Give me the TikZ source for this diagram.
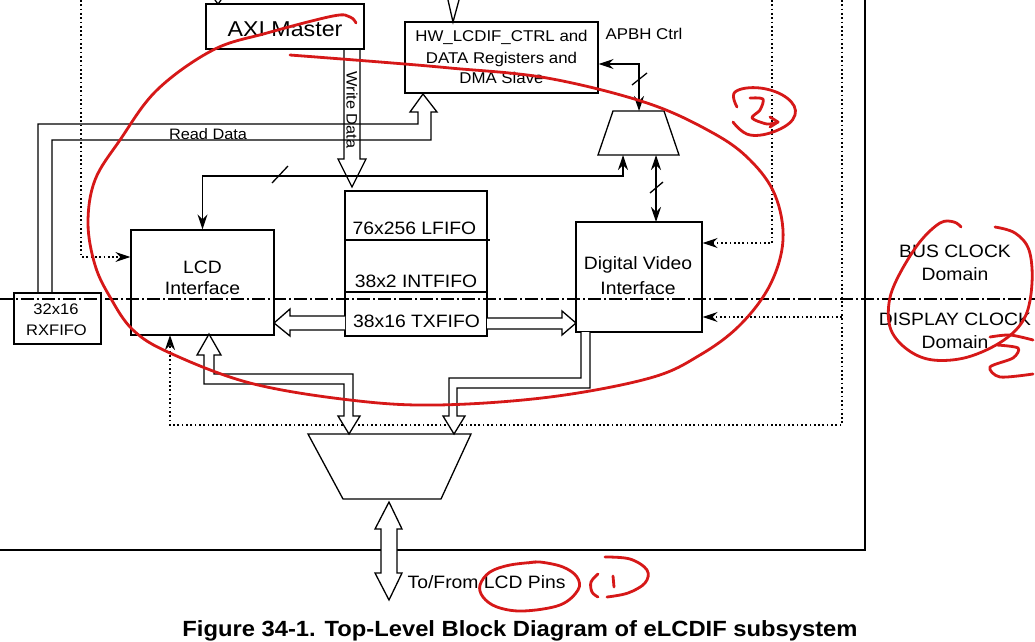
\documentclass[tikz,border=0pt]{standalone}
\usepackage{fontspec}
\setmainfont{Liberation Sans}[FakeStretch=1.08]
\usetikzlibrary{arrows.meta}
\newcommand\sizehw{\fontsize{15.6pt}{19pt}\selectfont}
\newcommand\sizebig{\fontsize{17.9pt}{21pt}\selectfont}
\newcommand\sizerx{\fontsize{15.3pt}{19pt}\selectfont}
\newcommand\sizerd{\fontsize{15.1pt}{19pt}\selectfont}
\newcommand\sizeaxi{\fontsize{21.5pt}{25pt}\selectfont}
\newcommand\sizecap{\fontsize{22pt}{26pt}\selectfont\bfseries}
\begin{document}
\begin{tikzpicture}[x=1pt,y=-1pt,line width=1.3pt,
  box/.style={draw,inner sep=0pt,line width=1.3pt},
  lbl/.style={anchor=base,inner sep=0pt},
  tipend/.style={-{Stealth[length=15pt,width=10pt,inset=5pt]}},
  tipboth/.style={{Stealth[length=15pt,width=10pt,inset=5pt]}-{Stealth[length=15pt,width=10pt,inset=5pt]}},
  dotl/.style={dash pattern=on 1.7pt off 2.6pt,line width=1.3pt},
  dashdot/.style={dash pattern=on 13pt off 3pt on 2pt off 3pt,line width=1.1pt},
  hol/.style={draw,fill=white,line width=1.3pt,line join=miter},
  scrib/.style={draw={rgb,255:red,214;green,24;blue,24},line width=2.8pt,line cap=round,line join=round}]
\useasboundingbox (0,0) rectangle (1035,641);
\fill[white] (0,0) rectangle (1035,641);

% outer frame
\draw[line width=1.8pt] (865,0) coordinate (fTop) -- (865,550) coordinate (fCorner) -- (0,550) coordinate (fLeft);

% boxes
\node[box,minimum width=158,minimum height=45] (axi) at (285,26.5) {};
\node[box,minimum width=193,minimum height=71] (hw) at (501.5,57.5) {};
\node[box,minimum width=143,minimum height=105] (lcd) at (202.5,282.5) {};
\node[box,minimum width=87,minimum height=51] (rx) at (57.5,318.5) {};
\node[box,minimum width=142,minimum height=145] (fifo) at (416,263.5) {};
\node[box,minimum width=126,minimum height=110] (dvi) at (639,277) {};
\draw (345,240) -- (490,240);
\draw (345,292) -- (487,292);

% muxes
\coordinate (mA) at (613,111); \coordinate (mB) at (664,111);
\coordinate (mC) at (679,155); \coordinate (mD) at (598,155);
\draw (mA) -- (mB) -- (mC) -- (mD) -- cycle;
\coordinate (MA) at (308,434); \coordinate (MB) at (471,434);
\coordinate (MC) at (441,499); \coordinate (MD) at (343,499);
\draw (MA) -- (MB) -- (MC) -- (MD) -- cycle;

% dotted clock lines
\draw[dotl,tipend] (81,0) -- (81,257) -- (lcd.west |- 0,257);
\draw[dotl,tipend] (772,0) -- (772,243) -- (dvi.east |- 0,243);
\draw[dotl,tipend] (842,0) -- (842,425) -- (170,425) -- (170,335);
\draw[dotl,tipend] (842,317) -- (dvi.east |- 0,317);

% domain separator
\draw[dashdot] (0,299) coordinate (ddL) -- (1035,299) coordinate (ddR);

% incoming arrow stubs at the top
\draw (215,0) -- (218,4) -- (221,0);
\draw (448,0) -- (453,22) -- (459,0);

% single-line arrows
\draw[tipboth] (hw.east |- 0,64) -- (639,64) -- (639,111);
\draw (632,85) -- (647,73);
\draw[tipboth] (lcd.north) -- (202.5,176) -- (623,176) -- (623,155);
\draw (272,183) -- (288,166);
\draw[tipboth] (656,155) -- (656,222);
\draw (650,193) -- (663,182);

% hollow (bus) arrows
\draw[line join=miter] (344,49) -- (344,159) -- (338,159) -- (352,187) -- (366,159) -- (360,159) -- (360,49);
\draw[line join=miter] (38,293) -- (38,124) -- (418,124) -- (418,112) -- (410,112) -- (423,94) -- (437,112) -- (431,112) -- (431,140) -- (52,140) -- (52,293);
\draw[hol] (345,316) -- (290,316) -- (290,309) -- (274,323) -- (290,336) -- (290,330) -- (345,330);
\draw[hol] (487,318) -- (562,318) -- (562,311) -- (576,323) -- (562,335) -- (562,329) -- (487,329);
\draw[hol] (209,334) -- (221,355) -- (214,355) -- (214,374) -- (353,374) -- (353,416) -- (360,416) -- (349,434) -- (338,416) -- (344,416) -- (344,384) -- (204,384) -- (204,355) -- (197,355) -- cycle;
\draw[hol] (581,332) -- (581,378) -- (449,378) -- (449,416) -- (443,416) -- (454,434) -- (465,416) -- (457,416) -- (457,388) -- (590,388) -- (590,332);
\draw[hol] (389,502) -- (402,529) -- (397,529) -- (397,573) -- (402,573) -- (389,600) -- (375,573) -- (381,573) -- (381,529) -- (375,529) -- cycle;

% texts
\node[lbl,font=\sizeaxi] (tAxi) at (285,36) {AXI Master};
\node[lbl,font=\sizehw] (tHw1) at (501.5,41.7) {HW\_LCDIF\_CTRL and};
\node[lbl,font=\sizehw] (tHw2) at (501.5,63.3) {DATA Registers and};
\node[lbl,font=\sizehw] (tHw3) at (501.5,83.3) {DMA Slave};
\node[lbl,anchor=base west,font=\sizehw] (tApbh) at (605,39.3) {APBH Ctrl};
\node[lbl,font=\sizerd] (tRead) at (208,139) {Read Data};
\node[rotate=-90,inner sep=0pt,font=\sizerd] (tWrite) at (352,110) {Write Data};
\node[lbl,font=\sizebig] (tL1) at (414.5,234) {76x256 LFIFO};
\node[lbl,font=\sizebig] (tL2) at (416,287.7) {38x2 INTFIFO};
\node[lbl,font=\sizebig] (tL3) at (416.5,327.3) {38x16 TXFIFO};
\node[lbl,font=\sizebig] (tLcd1) at (202.5,273.3) {LCD};
\node[lbl,font=\sizebig] (tLcd2) at (202.5,294) {Interface};
\node[lbl,font=\sizerx] (tRx1) at (56,314) {32x16};
\node[lbl,font=\sizerx] (tRx2) at (56.5,335) {RXFIFO};
\node[lbl,font=\sizebig] (tDvi1) at (638,269) {Digital Video};
\node[lbl,font=\sizebig] (tDvi2) at (638,294) {Interface};
\node[lbl,font=\sizebig] (tBus1) at (955,257.3) {BUS CLOCK};
\node[lbl,font=\sizebig] (tBus2) at (955,280.7) {Domain};
\node[lbl,font=\sizebig] (tDis1) at (955,325) {DISPLAY CLOCK};
\node[lbl,font=\sizebig] (tDis2) at (955,348.3) {Domain};
\node[lbl,anchor=base west,font=\sizebig] (tPins) at (407,588.3) {To/From LCD Pins};
\node[lbl,font=\sizecap] (tCap) at (520,636) {Figure 34-1. Top-Level Block Diagram of eLCDIF subsystem};

% red hand annotations
\draw[scrib] plot[smooth,tension=0.6] coordinates {(290,55) (380,62) (450,68) (547,78) (647,103) (713,133) (750,160) (775,195) (783,240) (770,285) (740,325) (700,355) (650,378) (550,397) (437,405) (350,400) (250,383) (170,353) (133,330) (110,297) (95,265) (88,223) (95,180) (120,140) (157,90) (213,50) (267,33) (333,16) (350,17) (356,23)};
\draw[scrib] plot[smooth,tension=0.7] coordinates {(737,107) (735,92) (760,88) (787,98) (795,115) (778,130) (750,135) (733,122)};
\draw[scrib] plot[smooth,tension=0.5] coordinates {(750,98) (763,99) (760,110) (752,118) (767,124) (778,122)};
\draw[scrib] (770,117) -- (778,122) -- (770,127);
\draw[scrib] plot[smooth,tension=0.6] coordinates {(961,227) (954,222) (940,223) (919,243) (898,277) (889,303) (891,330) (908,350) (933,360) (968,357) (1004,340) (1025,317) (1032,283) (1029,250) (1015,233) (995,227)};
\draw[scrib] plot[smooth,tension=0.5] coordinates {(990,337) (1010,335) (1033,340)};
\draw[scrib] plot[smooth,tension=0.5] coordinates {(997,345) (1018,348) (1013,358) (990,367) (1000,377) (1033,374)};
\draw[scrib] plot[smooth,tension=0.6] coordinates {(537,562) (510,565) (490,572) (480,585) (483,597) (497,607) (523,611) (560,605) (578,590) (577,577) (563,567) (540,562) (528,563)};
\draw[scrib] plot[smooth,tension=0.6] coordinates {(598,574) (591,582) (592,592) (598,597)};
\draw[scrib] plot[smooth,tension=0.6] coordinates {(605,557) (630,559) (647,570) (645,583) (628,593) (607,597)};
\draw[scrib] (613,576) -- (614,587);
\end{tikzpicture}
\end{document}
